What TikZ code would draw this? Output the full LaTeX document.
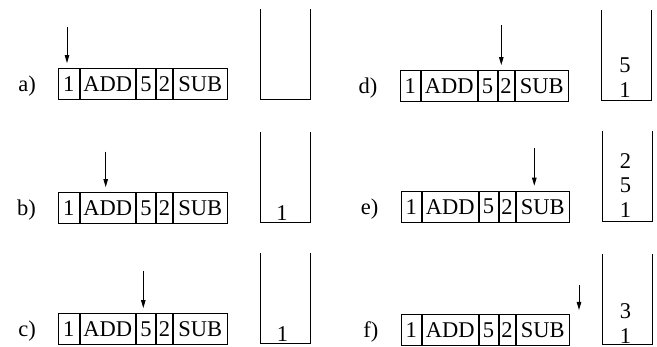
\documentclass[tikz,border=0pt]{standalone}
\usepackage{fontspec}
\setmainfont{Liberation Serif}
\usetikzlibrary{arrows.meta}

% One program tape: #1 = name prefix, #2 = left x, #3 = centre y
\newcommand\tapecells[3]{%
  \node[cell, minimum width=20.8pt] (#1c1) at (#2,#3) {1};
  \node[cell, minimum width=55.4pt] (#1c2) at (#1c1.east) {ADD};
  \node[cell, minimum width=19.2pt] (#1c3) at (#1c2.east) {5};
  \node[cell, minimum width=16.1pt] (#1c4) at (#1c3.east) {2};
  \node[cell, minimum width=53.5pt] (#1c5) at (#1c4.east) {SUB};
  \node[anchor=base east] (#1lab) at ([xshift=-22pt]#1c1.base west) {#1)};
}
% Open-topped stack: #1 = name, #2 = centre
\newcommand\stackwalls[2]{%
  \node[stackbox] (#1) at #2 {};
  \draw[wall] (#1.north west) -- (#1.south west) -- (#1.south east) -- (#1.north east);
}

\begin{document}
\begin{tikzpicture}[x=1pt,y=-1pt,
  every node/.style={font=\fontsize{22.5}{26}\selectfont, inner sep=0pt},
  cell/.style={draw, line width=0.9pt, minimum height=31pt, anchor=west},
  ptr/.style={-{Triangle[length=8pt,width=4.5pt]}, line width=0.9pt},
  stackbox/.style={minimum width=49.5pt, minimum height=90pt},
  wall/.style={line width=0.9pt},
  entry/.style={anchor=base}]
\useasboundingbox (0,0) rectangle (657,347);

% tapes
\tapecells{a}{58}{84}
\tapecells{b}{58}{208}
\tapecells{c}{58}{329}
\tapecells{d}{399.5}{86}
\tapecells{e}{400.5}{206.7}
\tapecells{f}{400.5}{330.3}

% instruction pointers
\coordinate (ap) at (67,27);
\coordinate (bp) at (105.7,151.7);
\coordinate (cp) at (143.3,270.7);
\coordinate (dp) at (501.3,25);
\coordinate (ep) at (534.3,148.3);
\coordinate (fp) at (579,285);
\coordinate (fend) at (579,310);
\draw[ptr] (ap) -- ([yshift=5pt]ap |- ac1.north);
\draw[ptr] (bp) -- ([yshift=5pt]bp |- bc2.north);
\draw[ptr] (cp) -- ([yshift=5pt]cp |- cc3.north);
\draw[ptr] (dp) -- ([yshift=5pt]dp |- dc4.north);
\draw[ptr] (ep) -- ([yshift=5pt]ep |- ec5.north);
\draw[ptr] (fp) -- (fend);

% stacks
\stackwalls{sa}{(285,54.3)}
\stackwalls{sb}{(285,177.7)}
\stackwalls{sc}{(285,298)}
\stackwalls{sd}{(626,55.3)}
\stackwalls{se}{(627.2,176.3)}
\stackwalls{sf}{(627.2,299.5)}

% stack contents
\node[entry] (b1) at (282,220.6) {1};
\node[entry] (c1) at (282.5,341.4) {1};
\node[entry] (d5) at (625,72.4) {5};
\node[entry] (d1) at (625,97.4) {1};
\node[entry] (e2) at (625.5,169) {2};
\node[entry] (e5) at (625.5,193) {5};
\node[entry] (e1) at (625.5,217.4) {1};
\node[entry] (f3) at (625.5,319) {3};
\node[entry] (f1) at (625.5,343.4) {1};
\end{tikzpicture}
\end{document}
